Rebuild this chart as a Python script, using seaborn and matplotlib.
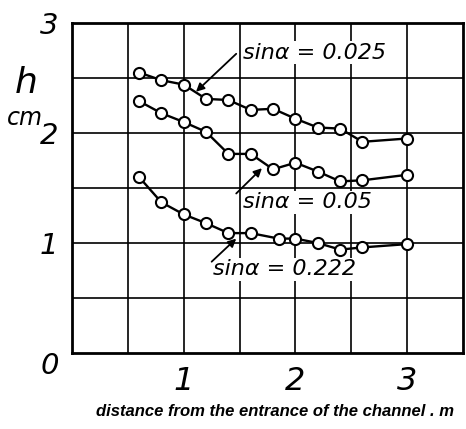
import numpy as np
import pandas as pd
import matplotlib
matplotlib.use("Agg")
import matplotlib.pyplot as plt
import seaborn as sns

# ---- data ----
x_025 = [0.6, 0.8, 1.0, 1.2, 1.4, 1.6, 1.8, 2.0, 2.2, 2.4, 2.6, 3.0]
h_025 = [2.55, 2.48, 2.44, 2.31, 2.30, 2.21, 2.22, 2.13, 2.05, 2.04, 1.92, 1.95]

x_05 = [0.6, 0.8, 1.0, 1.2, 1.4, 1.6, 1.8, 2.0, 2.2, 2.4, 2.6, 3.0]
h_05 = [2.29, 2.18, 2.10, 2.01, 1.81, 1.81, 1.67, 1.73, 1.65, 1.56, 1.57, 1.62]

x_222 = [0.6, 0.8, 1.0, 1.2, 1.4, 1.6, 1.85, 2.0, 2.2, 2.4, 2.6, 3.0]
h_222 = [1.60, 1.37, 1.26, 1.18, 1.09, 1.09, 1.04, 1.04, 1.00, 0.94, 0.96, 0.99]

series_labels = ["sinα = 0.025", "sinα = 0.05", "sinα = 0.222"]
x_ticks = [1, 2, 3]
y_ticks = [1, 2, 3]
x_label = "distance from the entrance of the channel . m"
y_label = "h"
y_unit = "cm"

sns.set_style("white")
plt.rcParams["font.family"] = ["DejaVu Sans"]
plt.rcParams["text.color"] = "black"
plt.rcParams["xtick.color"] = "black"
plt.rcParams["ytick.color"] = "black"
plt.rcParams["axes.labelcolor"] = "black"

W, H = 466, 429
fig = plt.figure(figsize=(W / 100, H / 100), dpi=100)
ax = fig.add_axes([72 / W, 1 - 353 / H, (463 - 72) / W, (353 - 23) / H])

for xs, hs in [(x_025, h_025), (x_05, h_05), (x_222, h_222)]:
    df = pd.DataFrame({"x": xs, "h": hs})
    sns.lineplot(data=df, x="x", y="h", ax=ax, color="black", linewidth=1.7,
                 marker="o", markersize=8, markerfacecolor="white",
                 markeredgecolor="black", markeredgewidth=1.5, sort=False,
                 zorder=5)

ax.set_xlim(0, 3.5)
ax.set_ylim(0, 3)
ax.set_xticks(x_ticks)
ax.set_xticks(np.arange(0.5, 3.5, 0.5), minor=True)
ax.set_yticks(y_ticks)
ax.set_yticks(np.arange(0.5, 3.0, 0.5), minor=True)
ax.set_xticklabels([str(t) for t in x_ticks], fontsize=23, style="italic",
                   color="black")
ax.set_yticklabels([str(t) for t in y_ticks], fontsize=21, style="italic",
                   color="black")
ax.tick_params(axis="both", which="both", length=0)
ax.tick_params(axis="x", pad=9)
ax.tick_params(axis="y", pad=10)
ax.grid(True, which="both", color="black", linewidth=1.2)
ax.set_axisbelow(True)
for s in ["left", "top", "bottom", "right"]:
    ax.spines[s].set_linewidth(2)
    ax.spines[s].set_color("black")
ax.set_xlabel("")
ax.set_ylabel("")

# origin label
ax.text(-0.2, -0.12, "0", fontsize=21, style="italic", ha="center", va="center",
        clip_on=False, color="black")
# y label
fig.text(26 / W, 1 - 83 / H, y_label, fontsize=26, style="italic",
         ha="center", va="center", color="black")
fig.text(25 / W, 1 - 118 / H, y_unit, fontsize=17, style="italic",
         ha="center", va="center", color="black")

# annotations
ann = [
    (series_labels[0], (1.53, 2.73), (1.47, 2.72), (1.11, 2.375)),
    (series_labels[1], (1.53, 1.37), (1.47, 1.45), (1.70, 1.68)),
    (series_labels[2], (1.26, 0.76), (1.25, 0.83), (1.47, 1.04)),
]
for lab, tpos, tail, head in ann:
    ax.text(tpos[0], tpos[1], lab, fontsize=16, style="italic",
            ha="left", va="center", zorder=6, color="black",
            bbox=dict(facecolor="white", edgecolor="none", pad=1))
    ax.annotate("", xy=head, xytext=tail,
                arrowprops=dict(arrowstyle="-|>", color="black", lw=1.3,
                                mutation_scale=12, shrinkA=0, shrinkB=0),
                zorder=7)

fig.text(96 / W, 1 - 412 / H, x_label, fontsize=12, style="italic",
         weight="bold", family=["Liberation Sans", "DejaVu Sans"],
         ha="left", va="center", color="black")

fig.savefig("out.png", dpi=100)
